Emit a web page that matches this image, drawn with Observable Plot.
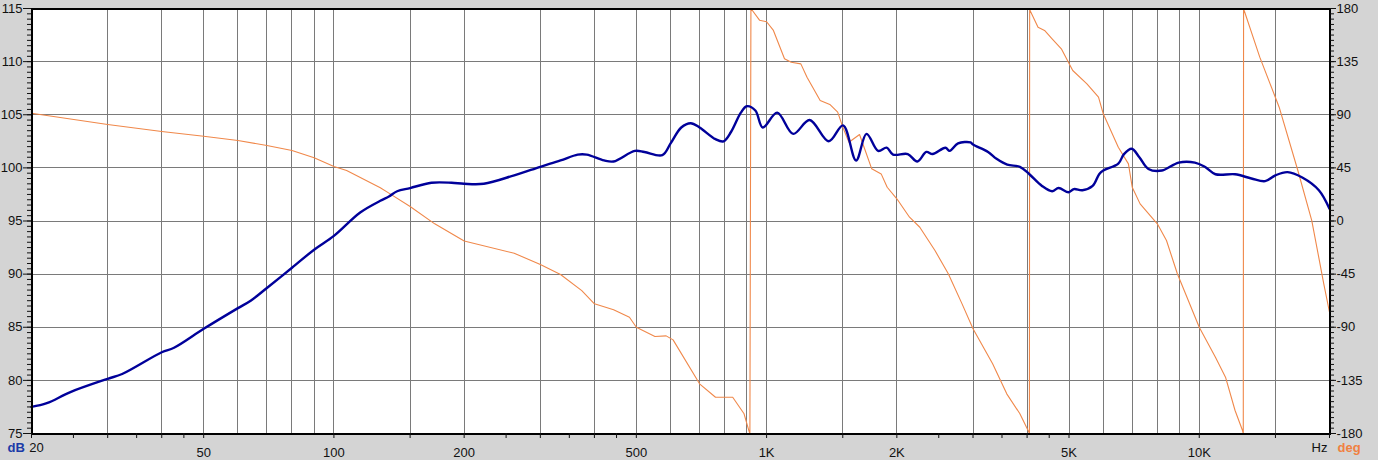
<!DOCTYPE html>
<html><head><meta charset="utf-8">
<script src="https://cdn.jsdelivr.net/npm/d3@7"></script>
<script src="https://cdn.jsdelivr.net/npm/@observablehq/plot@0.6"></script>
<style>
html,body{margin:0;padding:0;background:#d4d4d4;overflow:hidden;}
</style></head><body><div id="chart"></div>
<script>
// SPL magnitude response (dB)
const splFreq = [20, 21.7, 24.6, 30, 32.4, 40, 42.7, 50, 60, 64.2, 70, 80, 90, 100, 115, 128, 134, 140, 150, 168, 187, 200, 222, 261, 300, 334, 366, 384, 421, 443, 496, 522, 574, 600, 635, 668, 700, 762, 795, 828, 872, 900, 942, 980, 1058, 1152, 1257, 1392, 1502, 1610, 1702, 1810, 1895, 1960, 2120, 2230, 2340, 2420, 2590, 2650, 2770, 2960, 3000, 3250, 3400, 3600, 3850, 4050, 4330, 4570, 4730, 4990, 5130, 5370, 5670, 5870, 6000, 6500, 6700, 6980, 7270, 7630, 8200, 8960, 9770, 10300, 10900, 12100, 13200, 14200, 15000, 16000, 17300, 18900, 20000];
const splDb = [77.5, 77.85, 78.9, 80.15, 80.6, 82.65, 83.07, 84.85, 86.8, 87.5, 88.7, 90.6, 92.3, 93.6, 95.8, 96.9, 97.3, 97.8, 98.1, 98.6, 98.6, 98.5, 98.5, 99.3, 100.1, 100.7, 101.25, 101.25, 100.7, 100.6, 101.6, 101.5, 101.2, 102.3, 103.8, 104.2, 103.8, 102.7, 102.5, 103.4, 105.2, 105.8, 105.4, 103.8, 105.2, 103.2, 104.5, 102.5, 104.0, 100.7, 103.2, 101.6, 101.9, 101.25, 101.3, 100.6, 101.5, 101.3, 101.9, 101.6, 102.3, 102.4, 102.2, 101.5, 100.85, 100.3, 100.1, 99.4, 98.3, 97.8, 98.1, 97.7, 98.0, 97.9, 98.3, 99.4, 99.75, 100.4, 101.3, 101.8, 101.0, 99.9, 99.75, 100.5, 100.5, 100.1, 99.4, 99.4, 99.0, 98.75, 99.3, 99.6, 99.1, 97.9, 96.15];

// Phase response (degrees, wrapped)
const phaseFreq = [20, 30, 40, 50, 60, 70, 80, 90, 100, 107, 128, 134, 150, 171, 200, 261, 300, 334, 374, 400, 443, 482, 500, 552, 586, 608, 700, 762, 835, 887, 910, 915, 920, 964, 1000, 1037, 1100, 1140, 1200, 1240, 1330, 1400, 1460, 1500, 1550, 1640, 1680, 1750, 1840, 1900, 2000, 2140, 2260, 2450, 2630, 2830, 3000, 3330, 3590, 3850, 4040, 4050, 4055, 4064, 4240, 4390, 4570, 4800, 5100, 5500, 5850, 6000, 6500, 6860, 7000, 7300, 8000, 8400, 8900, 10000, 10900, 11500, 12100, 12590, 12640, 12660, 12700, 13800, 15300, 16900, 18200, 19400, 20000];
const phaseDeg = [91.3, 81.7, 75.8, 71.8, 68.2, 64.0, 59.7, 53.5, 46.2, 42.8, 28.1, 23.6, 12.3, -2.4, -16.9, -27.3, -36.9, -45.3, -59, -70.1, -75.2, -81.5, -90, -97.8, -97.3, -100.7, -137.9, -149.3, -149.3, -163.3, -177.5, -180, 180, 170, 168.8, 161.4, 137.4, 134.5, 133.1, 121.8, 102.1, 98.7, 92.2, 79.5, 66.7, 73.3, 62.5, 44.2, 39.9, 28.6, 18.8, 3.2, -5.3, -25, -44.7, -70.2, -91.3, -121, -146.4, -163.3, -179, -180, 180, 178.3, 164.2, 161.4, 154.3, 145.9, 127.5, 116.2, 104.9, 90.8, 62.5, 48.4, 28.6, 14.5, -2.4, -16.5, -44.7, -90, -115.4, -132.3, -160.5, -177.5, -180, 180, 178.3, 138.8, 96.4, 42.8, 0.4, -53.2, -77.3];

// Axes / grid
const gridFreqs = [30, 40, 50, 60, 70, 80, 90, 100, 150, 200, 300, 400, 500, 600, 700, 800, 900, 1000, 1500, 2000, 3000, 4000, 5000, 6000, 7000, 8000, 9000, 10000, 15000];
const tickFreqs = [20, 25, 30, 35, 40, 45, 50, 100, 150, 200, 250, 300, 350, 400, 450, 500, 1000, 1500, 2000, 2500, 3000, 3500, 4000, 4500, 5000, 10000, 15000, 20000];
const labelFreqs = [20, 50, 100, 200, 500, 1000, 2000, 5000, 10000];
const labelText = ["20", "50", "100", "200", "500", "1K", "2K", "5K", "10K"];
const dbTicks = [75, 80, 85, 90, 95, 100, 105, 110, 115];
const degTicks = [-180, -135, -90, -45, 0, 45, 90, 135, 180];

const degToDb = d => 95 + d / 9;
const spl = splFreq.map((f, i) => ({f, v: splDb[i]}));
const phase = phaseFreq.map((f, i) => ({f, v: degToDb(phaseDeg[i])}));
const minorDb = d3.range(75, 115.001, 0.5);
const labelMap = new Map(labelFreqs.map((f, i) => [f, labelText[i]]));
const degMap = new Map(dbTicks.map((d, i) => [d, String(degTicks[i])]));

const chart = Plot.plot({
  width: 1378, height: 460,
  marginTop: 8, marginRight: 49, marginBottom: 27, marginLeft: 31,
  style: {background: "#d4d4d4", fontFamily: "'Liberation Sans', Arial, sans-serif", fontSize: "13px", color: "#111"},
  x: {type: "log", domain: [20, 20000]},
  y: {domain: [75, 115]},
  marks: [
    Plot.frame({fill: "white", stroke: "none"}),
    Plot.ruleX(gridFreqs, {stroke: "#7a7a7a", strokeWidth: 1, shapeRendering: "crispEdges"}),
    Plot.ruleY(dbTicks, {stroke: "#7a7a7a", strokeWidth: 1, shapeRendering: "crispEdges"}),
    Plot.line(phase, {x: "f", y: "v", stroke: "#f0884a", strokeWidth: 1.1}),
    Plot.line(spl, {x: "f", y: "v", stroke: "#00009a", strokeWidth: 2.4, curve: "catmull-rom"}),
    Plot.frame({stroke: "black", strokeWidth: 2, shapeRendering: "crispEdges"}),
    Plot.axisY(minorDb, {anchor: "left", tickSize: 4, tickFormat: () => "", label: null}),
    Plot.axisY(dbTicks, {anchor: "left", tickSize: 8, tickPadding: 1, label: null}),
    Plot.axisY(minorDb, {anchor: "right", tickSize: 4, tickFormat: () => "", label: null}),
    Plot.axisY(dbTicks, {anchor: "right", tickSize: 6, tickPadding: 1, tickFormat: d => degMap.get(d), label: null}),
    Plot.axisX(tickFreqs, {anchor: "bottom", tickSize: 5, tickFormat: () => "", label: null}),
    Plot.axisX(labelFreqs.slice(1), {anchor: "bottom", tickSize: 0, tickPadding: 14, tickFormat: d => labelMap.get(d), label: null}),
    Plot.text(labelFreqs.slice(0, 1), {x: d => d, text: d => labelMap.get(d), frameAnchor: "bottom", dx: 5, dy: 18, fill: "#111"}),
    Plot.text(["dB"], {text: d => d, frameAnchor: "bottom-left", dx: -24, dy: 18, textAnchor: "start", fill: "#1a3aa8", fontWeight: "bold"}),
    Plot.text(["Hz"], {text: d => d, frameAnchor: "bottom-right", dx: -2, dy: 18, textAnchor: "end", fill: "#111"}),
    Plot.text(["deg"], {text: d => d, frameAnchor: "bottom-right", dx: 8, dy: 18, textAnchor: "start", fill: "#f08040", fontWeight: "bold"})
  ]
});
document.getElementById("chart").appendChild(chart);
</script></body></html>
